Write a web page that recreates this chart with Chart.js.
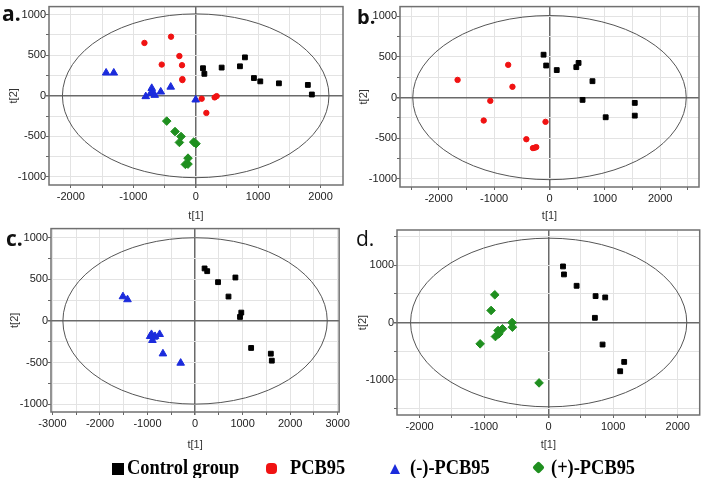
<!DOCTYPE html>
<html>
<head>
<meta charset="utf-8">
<script src="https://cdn.jsdelivr.net/npm/chart.js@4.4.1/dist/chart.umd.min.js"></script>
<style>
body { margin: 0; background: #fff; }
#wrap { position: relative; width: 705px; height: 478px; overflow: hidden; }
#wrap canvas { position: absolute; }
.tag { position: absolute; font-family: "Open Sans", sans-serif; font-size: 21px; line-height: 21px; color: #111; }
.lg { position: absolute; top: 457px; font-family: "Liberation Serif", serif; font-weight: bold; font-size: 20px;
      line-height: 20px; color: #000; white-space: pre; transform: scaleX(0.92); transform-origin: left top; }
.mk { position: absolute; }
</style>
</head>
<body>
<div id="wrap">
  <canvas id="pa" width="352" height="222" style="left:0;top:0"></canvas>
  <canvas id="pb" width="353" height="222" style="left:352px;top:0"></canvas>
  <canvas id="pc" width="352" height="256" style="left:0;top:222px"></canvas>
  <canvas id="pd" width="353" height="256" style="left:352px;top:222px"></canvas>

  <div class="tag" style="left:2px;top:3px;font-weight:700">a.</div>
  <div class="tag" style="left:357px;top:6px;font-weight:700;font-size:20px">b.</div>
  <div class="tag" style="left:6px;top:228px;font-weight:700">c.</div>
  <div class="tag" style="left:356px;top:228px">d.</div>

  <!-- legend -->
  <div class="mk" style="left:112px;top:463px;width:12px;height:12px;background:#000"></div>
  <div class="lg" style="left:127px">Control group</div>
  <div class="mk" style="left:266px;top:463px;width:11px;height:11px;border-radius:4px;background:#f01212"></div>
  <div class="lg" style="left:290px">PCB95</div>
  <div class="mk" style="left:390px;top:464px;width:0;height:0;border-left:5.5px solid transparent;border-right:5.5px solid transparent;border-bottom:10px solid #1b2bdc"></div>
  <div class="lg" style="left:410px">(-)-PCB95</div>
  <div class="mk" style="left:534px;top:463px;width:9px;height:9px;background:#1f8f1f;transform:rotate(45deg);border-radius:2px"></div>
  <div class="lg" style="left:551px">(+)-PCB95</div>
</div>

<script>
// ---- scores, [t1, t2] ----
const aControl = [[117,340],[139,271],[416,348],[709,364],[789,474],[933,219],[1035,178],[1333,154],[1797,134],[1861,16]];
const aPCB95   = [[-821,652],[-395,729],[-261,490],[-544,385],[-219,377],[-213,194],[-213,206],[96,-36],[304,-20],[336,-4],[171,-211]];
const aMinus   = [[-1435,283],[-1312,283],[-800,-8],[-720,32],[-704,93],[-693,40],[-656,8],[-560,49],[-400,109],[0,-49]];
const aPlus    = [[-464,-312],[-331,-441],[-235,-502],[-261,-575],[-32,-571],[5,-591],[-123,-769],[-165,-846],[-123,-842]];

const bControl = [[-107,528],[-60,395],[131,339],[484,375],[525,427],[776,202],[597,-28],[1015,-242],[1540,-65],[1540,-222]];
const bPCB95   = [[-1660,218],[-746,403],[-669,133],[-1069,-40],[-1188,-282],[-72,-298],[-418,-512],[-299,-621],[-269,-617],[-239,-609]];

const cControl = [[200,631],[255,598],[483,466],[848,522],[703,293],[972,100],[945,48],[1179,-325],[1593,-394],[1614,-478]];
const cMinus   = [[-1517,293],[-1421,257],[-917,-161],[-897,-233],[-862,-193],[-841,-185],[-745,-161],[-945,-185],[-676,-394],[-303,-506]];

const dControl = [[222,982],[237,842],[433,643],[727,462],[876,439],[716,82],[835,-386],[1170,-690],[1108,-854]];
const dPlus    = [[-835,485],[-892,211],[-567,0],[-562,-82],[-716,-111],[-784,-140],[-773,-199],[-825,-246],[-1062,-374],[-149,-1058]];

// ---- axes: ranges, tick labels, ellipse semi-axes ----
const aXRange = [-2350, 2360], aYRange = [-1100, 1100];
const bXRange = [-2700, 2700], bYRange = [-1100, 1120];
const cXRange = [-3030, 3030], cYRange = [-1095, 1110];
const dXRange = [-2350, 2340], dYRange = [-1620, 1620];

const aXLabels = [-2000, -1000, 0, 1000, 2000];
const bXLabels = [-2000, -1000, 0, 1000, 2000];
const cXLabels = [-3000, -2000, -1000, 0, 1000, 2000, 3000];
const dXLabels = [-2000, -1000, 0, 1000, 2000];
const abcYLabels = [-1000, -500, 0, 500, 1000];
const dYLabels = [-1000, 0, 1000];

const aEllipse = [2135, 1010];
const bEllipse = [2470, 1010];
const cEllipse = [2780, 1000];
const dEllipse = [2140, 1477];

const groups = {
  control: { color: '#000000', style: 'rect', radius: 3.4 },
  pcb95:   { color: '#f01212', style: 'circle', radius: 2.7 },
  minus:   { color: '#1b2bdc', style: 'triangle', radius: 4.4 },
  plus:    { color: '#1f8f1f', style: 'rectRot', radius: 4.3 }
};

const tickFont = { family: '"Liberation Sans Narrow", "Liberation Sans", Arial, sans-serif', size: 11 };
const titleFont = { family: '"Liberation Sans Narrow", "Liberation Sans", Arial, sans-serif', size: 11 };

// ellipse + frame box, drawn under the points
const framePlugin = {
  id: 'frame',
  beforeDatasetsDraw(chart, args, opts) {
    const { ctx, chartArea: ca, scales: { x, y } } = chart;
    const cx = x.getPixelForValue(0), cy = y.getPixelForValue(0);
    const rx = x.getPixelForValue(opts.ellipse[0]) - cx;
    const ry = cy - y.getPixelForValue(opts.ellipse[1]);
    ctx.save();
    ctx.beginPath();
    ctx.ellipse(cx, cy, rx, ry, 0, 0, 2 * Math.PI);
    ctx.strokeStyle = '#555';
    ctx.lineWidth = 1;
    ctx.stroke();
    ctx.strokeStyle = '#707070';
    ctx.lineWidth = 1.5;
    ctx.strokeRect(ca.left, ca.top, ca.width, ca.height);
    ctx.restore();
  }
};

function gridValues(range, step) {
  const out = [];
  for (let v = Math.ceil(range[0] / step) * step; v <= range[1]; v += step) out.push(v);
  return out;
}

function axis(range, step, labels, extra) {
  const grid = gridValues(range, step);
  return Object.assign({
    type: 'linear',
    min: range[0],
    max: range[1],
    afterBuildTicks: s => { s.ticks = grid.map(v => ({ value: v })); },
    ticks: {
      autoSkip: false, maxRotation: 0, font: tickFont, color: '#222',
      callback: v => labels.includes(v) ? String(v) : ''
    },
    grid: {
      color: c => (c.tick && c.tick.value === 0) ? '#6a6a6a' : '#e3e3e3',
      lineWidth: c => (c.tick && c.tick.value === 0) ? 1.5 : 1,
      tickColor: '#666', tickLength: 3, drawTicks: true
    },
    border: { display: false }
  }, extra);
}

function makePanel(id, p) {
  const cv = document.getElementById(id);
  const W = cv.width, H = cv.height;
  const half = titleFont.size * 1.2 / 2;
  const xAxisH = (p.xTitleY + half) - p.area.b;
  const x = axis(p.xRange, 500, p.xLabels, {
    title: { display: true, text: 't[1]', font: titleFont, color: '#333', padding: 0 },
    afterFit: s => { s.height = xAxisH; }
  });
  x.ticks.padding = 2;
  const y = axis(p.yRange, p.yStep, p.yLabels, {
    title: { display: true, text: 't[2]', font: titleFont, color: '#333', padding: { top: p.yTitleX - half, bottom: 0 } },
    afterFit: s => { s.width = p.area.l; }
  });
  y.ticks.padding = 0;

  const datasets = p.series.map(([key, pts]) => {
    const g = groups[key];
    return {
      data: pts.map(([t1, t2]) => ({ x: t1, y: t2 })),
      pointStyle: g.style,
      pointRadius: g.radius,
      backgroundColor: g.color,
      borderColor: g.color,
      borderWidth: 1
    };
  });

  new Chart(cv, {
    type: 'scatter',
    data: { datasets },
    options: {
      responsive: false,
      animation: false,
      events: [],
      layout: { padding: { left: 0, top: p.area.t, right: W - p.area.r, bottom: H - (p.xTitleY + half) } },
      scales: { x, y },
      plugins: { legend: { display: false }, tooltip: { enabled: false }, frame: { ellipse: p.ellipse } }
    },
    plugins: [framePlugin]
  });
}

makePanel('pa', {
  area: { l: 49, r: 343, t: 3, b: 185 }, xTitleY: 216, yTitleX: 14,
  xRange: aXRange, yRange: aYRange, xLabels: aXLabels, yLabels: abcYLabels, yStep: 250, ellipse: aEllipse,
  series: [['control', aControl], ['pcb95', aPCB95], ['minus', aMinus], ['plus', aPlus]]
});
makePanel('pb', {
  area: { l: 48, r: 347, t: 3, b: 187 }, xTitleY: 216, yTitleX: 12,
  xRange: bXRange, yRange: bYRange, xLabels: bXLabels, yLabels: abcYLabels, yStep: 250, ellipse: bEllipse,
  series: [['control', bControl], ['pcb95', bPCB95]]
});
makePanel('pc', {
  area: { l: 51, r: 343, t: 6, b: 190 }, xTitleY: 223, yTitleX: 15,
  xRange: cXRange, yRange: cYRange, xLabels: cXLabels, yLabels: abcYLabels, yStep: 250, ellipse: cEllipse,
  series: [['control', cControl], ['minus', cMinus]]
});
makePanel('pd', {
  area: { l: 45, r: 350, t: 8, b: 193 }, xTitleY: 223, yTitleX: 11,
  xRange: dXRange, yRange: dYRange, xLabels: dXLabels, yLabels: dYLabels, yStep: 500, ellipse: dEllipse,
  series: [['control', dControl], ['plus', dPlus]]
});
</script>
</body>
</html>
